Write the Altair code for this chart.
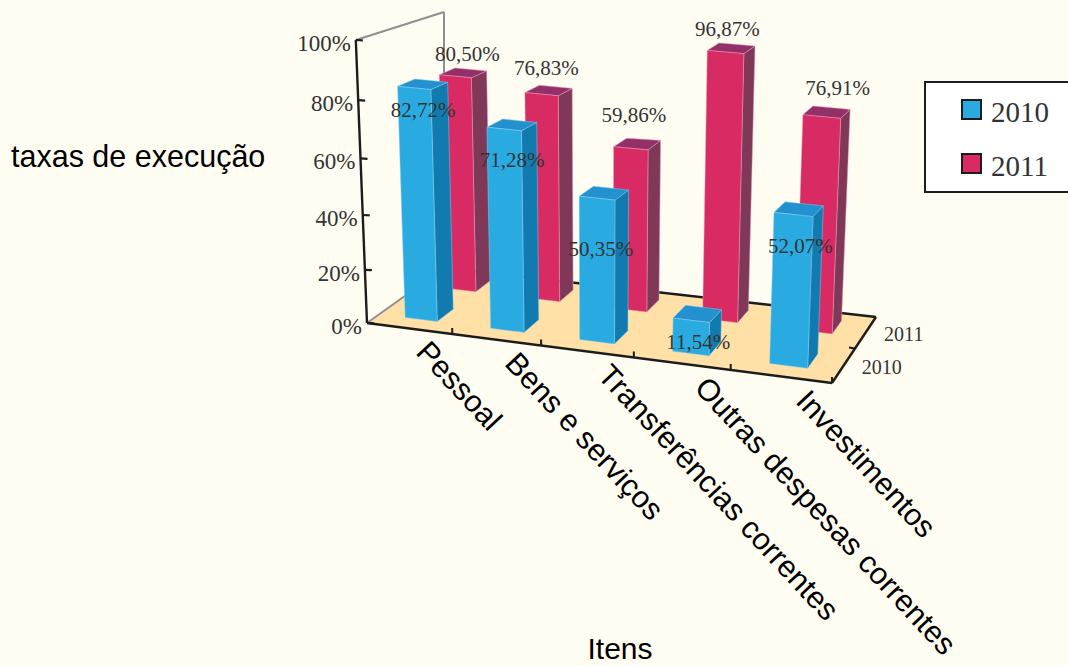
import numpy as np
import pandas as pd
import altair as alt

# Budget execution rates per item, in percent
categories = ["Pessoal", "Bens e serviços", "Transferências correntes",
              "Outras despesas correntes", "Investimentos"]
rates_2010 = [82.72, 71.28, 50.35, 11.54, 52.07]
rates_2011 = [80.50, 76.83, 59.86, 96.87, 76.91]
pct_ticks = [0, 20, 40, 60, 80, 100]
series_names = ["2010", "2011"]

W, H = 1068, 665
BG = "#FFFDF1"
INK = "#1c1c1c"
LABEL = "#333333"

# Perspective of the floor: unit square (u along items, v in depth) to the page
floor_corners = [(367, 323), (832, 383), (876, 317), (444, 268)]
src = [(0, 0), (1, 0), (1, 1), (0, 1)]
A, b = [], []
for (u, v), (px, py) in zip(src, floor_corners):
    A.append([u, v, 1, 0, 0, 0, -u * px, -v * px]); b.append(px)
    A.append([0, 0, 0, u, v, 1, -u * py, -v * py]); b.append(py)
h = np.linalg.solve(np.array(A, float), np.array(b, float))


def project(u, v, z=0.0, bend=0.0):
    """3D chart coordinates to page coordinates; z is the rate as a fraction."""
    w = h[6] * u + h[7] * v + 1
    fx = (h[0] * u + h[1] * v + h[2]) / w
    fy = (h[3] * u + h[4] * v + h[5]) / w
    full = 283 - 0.0276 * (fx - 367) + 0.452 * (fy - 323)
    # The far right corner of the box stands a little taller
    full += 6 * np.clip((fx - 640) / 60, 0, 1) * np.clip((v - 0.5) / 0.2, 0, 1)
    rise = full * z / (1 + bend * (1 - z))
    return fx + rise * (fx - 600) / 5900, fy - rise


def span_polygon(corners):
    """Convex polygon as x / upper / lower rows for an area mark."""
    rows = []
    n = len(corners)
    for x in sorted({c[0] for c in corners}):
        ys = []
        for k in range(n):
            (x0, y0), (x1, y1) = corners[k], corners[(k + 1) % n]
            if min(x0, x1) <= x <= max(x0, x1):
                if x0 == x1:
                    ys += [y0, y1]
                else:
                    ys.append(y0 + (y1 - y0) * (x - x0) / (x1 - x0))
        rows.append((x, min(ys), max(ys)))
    return rows


faces = []


def add_face(name, corners, fill, stroke):
    for x, y0, y1 in span_polygon(corners):
        faces.append(dict(face=name, px=x, y0=y0, y1=y1, fill=fill, edge=stroke))


BAR_U = (0.31, 0.69)
palette = {
    "2010": dict(front="#29ABE2", side="#117BB0", top="#2391D0", edge="#86CDEB", v=(0.15, 0.36)),
    "2011": dict(front="#D82A63", side="#7F3858", top="#93306A", edge="#E79AB4", v=(0.67, 0.88)),
}
for name, rates in (("2011", rates_2011), ("2010", rates_2010)):
    p = palette[name]
    v0, v1 = p["v"]
    for i, rate in enumerate(rates):
        u0, u1 = (i + BAR_U[0]) / 5, (i + BAR_U[1]) / 5
        z = rate / 100
        add_face(f"{name}-{i}-side",
                 [project(u1, v0), project(u1, v1), project(u1, v1, z), project(u1, v0, z)],
                 p["side"], p["edge"])
        add_face(f"{name}-{i}-top",
                 [project(u0, v0, z), project(u1, v0, z), project(u1, v1, z), project(u0, v1, z)],
                 p["top"], p["edge"])
        add_face(f"{name}-{i}-front",
                 [project(u0, v0), project(u1, v0), project(u1, v0, z), project(u0, v0, z)],
                 p["front"], p["edge"])

x_scale = alt.Scale(domain=[0, W], range=[0, W], nice=False, zero=False)
y_scale = alt.Scale(domain=[0, H], range=[0, H], nice=False, zero=False)
X = lambda f: alt.X(f, type="quantitative", scale=x_scale, axis=None)
Y = lambda f: alt.Y(f, type="quantitative", scale=y_scale, axis=None, stack=None)

# Floor
floor_rows = [dict(px=x, y0=a, y1=c) for x, a, c in span_polygon([project(0, 0), project(1, 0), project(1, 1), project(0, 1)])]
floor = alt.Chart(pd.DataFrame(floor_rows)).mark_area(orient="vertical", color="#FFE0A6").encode(
    x=X("px"), y=Y("y0"), y2="y1")

# Frame lines and ticks
WALL_CORNER = (444, 12)
TICK_BEND = 0.08


def seg(a, c, color, width):
    return dict(x=a[0], y=a[1], x2=c[0], y2=c[1], color=color, width=width)


lines = [
    seg(project(0, 0), project(0, 1), "#8f8f92", 2),
    seg(project(0, 0, 1), WALL_CORNER, "#8f8f92", 2),
    seg(WALL_CORNER, project(0, 1), "#8f8f92", 2),
    seg(project(0, 1), project(1, 1), INK, 2.4),
    seg(project(1, 1), project(1, 0), INK, 2.4),
    seg(project(0, 0), project(1, 0), INK, 2.4),
    seg(project(0, 0), project(0, 0, 1), INK, 2.4),
]
for t in pct_ticks:
    ax, ay = project(0, 0, t / 100, TICK_BEND)
    lines.append(seg((ax, ay), (ax + 7, ay + 0.4), INK, 2.2))
for i in range(1, 6):
    tx, ty = project(i / 5, 0)
    lines.append(seg((tx, ty), (tx, ty - 6), INK, 2))
dx, dy = project(1, 0.5)
lines.append(seg((dx, dy), (dx - 6, dy - 1), INK, 2))

frame = alt.Chart(pd.DataFrame(lines)).mark_rule().encode(
    x=X("x"), y=Y("y"), x2="x2", y2="y2",
    color=alt.Color("color:N", scale=None),
    strokeWidth=alt.StrokeWidth("width:Q", scale=None),
)

# Bars, painted back to front in row order
bars = alt.Chart(pd.DataFrame(faces)).mark_area(orient="vertical", strokeWidth=0.5).encode(
    x=X("px"), y=Y("y0"), y2="y1",
    detail="face:N",
    fill=alt.Fill("fill:N", scale=None),
    stroke=alt.Stroke("edge:N", scale=None),
)


def text_layer(rows, **mark):
    return alt.Chart(pd.DataFrame(rows)).mark_text(**mark).encode(
        x=X("x"), y=Y("y"), text="label:N")


# Value labels, nudged from the centre of each bar's top front edge
label_nudge_2010 = [(9, 23), (8, 32), (4, 52), (7, 23), (7, 32)]
label_nudge_2011 = [(12, -21), (5, -25), (3, -32), (2, -22), (16, -28)]
value_rows = []
for name, rates, nudges in (("2010", rates_2010, label_nudge_2010), ("2011", rates_2011, label_nudge_2011)):
    v0 = palette[name]["v"][0]
    for i, (rate, (nx, ny)) in enumerate(zip(rates, nudges)):
        cx, cy = project((i + 0.5) / 5, v0, rate / 100)
        value_rows.append(dict(x=cx + nx, y=cy + ny, label=f"{rate:.2f}%".replace(".", ",")))
values = text_layer(value_rows, font="Liberation Serif", fontSize=21, color=LABEL, align="center", baseline="middle")

# Percent axis labels
pct_rows = []
for t in pct_ticks:
    ax, ay = project(0, 0, t / 100, TICK_BEND)
    pct_rows.append(dict(x=ax - 5, y=ay + 4, label=f"{t}%"))
pct_labels = text_layer(pct_rows, font="Liberation Serif", fontSize=23, color=LABEL, align="right", baseline="middle")

# Depth axis labels
depth_rows = []
for name, v in zip(series_names, (0.25, 0.75)):
    fx, fy = project(1, v)
    depth_rows.append(dict(x=fx + 38, y=fy + 3, label=name))
depth_labels = text_layer(depth_rows, font="Liberation Serif", fontSize=20, color=LABEL, align="center", baseline="middle")

# Slanted item labels start near the tick closing each item
item_rows = []
for i, c in enumerate(categories):
    tx, ty = project((i + 1) / 5, 0)
    item_rows.append(dict(x=tx - 31, y=ty + 13, label=c))
item_labels = text_layer(item_rows, font="Liberation Sans", fontSize=30.5, color="#000000",
                         align="left", baseline="middle", angle=47)

y_title = text_layer([dict(x=11, y=158, label="taxas de execução")], font="Liberation Sans", fontSize=30.5,
                     color="#000000", align="left", baseline="middle")
x_title = text_layer([dict(x=620, y=650, label="Itens")], font="Liberation Sans", fontSize=30,
                     color="#000000", align="center", baseline="middle")

# Legend box
box = alt.Chart(pd.DataFrame([dict(x=925, x2=1080, y=82, y2=192)])).mark_rect(
    fill="#FFFFFF", stroke=INK, strokeWidth=2).encode(x=X("x"), x2="x2", y=Y("y"), y2="y2")
swatches = alt.Chart(pd.DataFrame([
    dict(x=962, x2=981, y=100, y2=119, fill=palette["2010"]["front"]),
    dict(x=962, x2=981, y=154, y2=173, fill=palette["2011"]["front"]),
])).mark_rect(stroke=INK, strokeWidth=2).encode(
    x=X("x"), x2="x2", y=Y("y"), y2="y2", fill=alt.Fill("fill:N", scale=None))
legend_text = text_layer([dict(x=991, y=113, label=series_names[0]), dict(x=991, y=167, label=series_names[1])],
                         font="Liberation Serif", fontSize=29, color=LABEL, align="left", baseline="middle")

chart = alt.layer(
    floor, frame, bars, values, pct_labels, depth_labels, item_labels, y_title, x_title,
    box, swatches, legend_text,
).properties(
    width=W, height=H, background=BG, padding=0, autosize=alt.AutoSizeParams(type="none"),
).configure_view(stroke=None)

chart.save("out.html", embed_options={"renderer": "svg", "actions": False})
